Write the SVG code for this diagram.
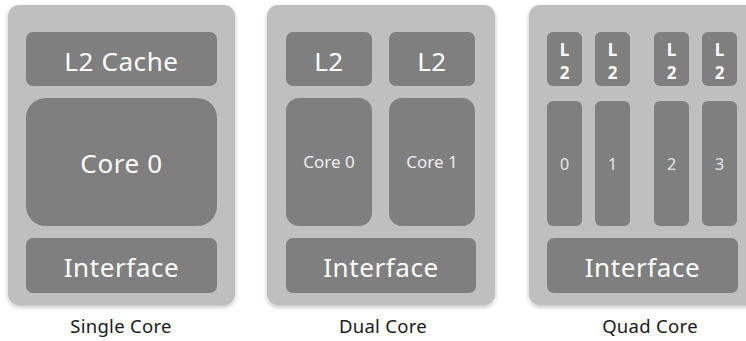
<svg xmlns="http://www.w3.org/2000/svg" width="746" height="341" viewBox="0 0 746 341">
<defs>
<filter id="sh" x="-10%" y="-10%" width="120%" height="120%">
<feDropShadow dx="0" dy="2" stdDeviation="2" flood-color="#000" flood-opacity="0.25"/>
</filter>
</defs>
<style>
.panel{fill:#bfbfbf;filter:url(#sh)}
.blk{fill:#7f7f7f}
.t{font-family:"Noto Sans","Open Sans",sans-serif;fill:#ffffff;text-anchor:middle}
.big{font-size:26px;letter-spacing:0.6px}
.mid{font-size:17px;fill:#eeeeee}
.q{font-size:17px;font-weight:bold}
.d{font-size:16px;fill:#e6e6e6}
.lab{font-family:"Noto Sans","Open Sans",sans-serif;font-size:18.5px;letter-spacing:0.3px;fill:#1a1a1a;text-anchor:middle}
</style>
<g id="single">
<rect class="panel" x="8" y="5" width="227" height="300" rx="11"/>
<rect class="blk" x="26" y="32" width="191" height="54" rx="7"/>
<rect class="blk" x="26" y="98" width="191" height="128" rx="20"/>
<rect class="blk" x="26" y="238" width="191" height="55" rx="7"/>
<text class="t big" x="121.5" y="71">L2 Cache</text>
<text class="t big" x="121.5" y="173">Core 0</text>
<text class="t big" x="121.5" y="277">Interface</text>
<text class="lab" x="121" y="333">Single Core</text>
</g>
<g id="dual">
<rect class="panel" x="267" y="5" width="228" height="300" rx="11"/>
<rect class="blk" x="286" y="32" width="86" height="54" rx="7"/>
<rect class="blk" x="389" y="32" width="86" height="54" rx="7"/>
<rect class="blk" x="286" y="98" width="86" height="128" rx="13"/>
<rect class="blk" x="389" y="98" width="86" height="128" rx="13"/>
<rect class="blk" x="286" y="238" width="190" height="55" rx="7"/>
<text class="t big" x="329" y="71">L2</text>
<text class="t big" x="432" y="71">L2</text>
<text class="t mid" x="329" y="168">Core 0</text>
<text class="t mid" x="432" y="168">Core 1</text>
<text class="t big" x="381" y="277">Interface</text>
<text class="lab" x="383" y="333">Dual Core</text>
</g>
<g id="quad">
<rect class="panel" x="529" y="5" width="230" height="300" rx="11"/>
<rect class="blk" x="547" y="32" width="35" height="54" rx="6"/>
<rect class="blk" x="595" y="32" width="35" height="54" rx="6"/>
<rect class="blk" x="654" y="32" width="35" height="54" rx="6"/>
<rect class="blk" x="702" y="32" width="35" height="54" rx="6"/>
<rect class="blk" x="547" y="101" width="35" height="125" rx="6"/>
<rect class="blk" x="595" y="101" width="35" height="125" rx="6"/>
<rect class="blk" x="654" y="101" width="35" height="125" rx="6"/>
<rect class="blk" x="702" y="101" width="35" height="125" rx="6"/>
<rect class="blk" x="547" y="238" width="191" height="55" rx="7"/>
<text class="t q" x="564.5" y="56">L</text><text class="t q" x="564.5" y="79">2</text>
<text class="t q" x="612.5" y="56">L</text><text class="t q" x="612.5" y="79">2</text>
<text class="t q" x="671.5" y="56">L</text><text class="t q" x="671.5" y="79">2</text>
<text class="t q" x="719.5" y="56">L</text><text class="t q" x="719.5" y="79">2</text>
<text class="t d" x="564.5" y="170">0</text>
<text class="t d" x="612.5" y="170">1</text>
<text class="t d" x="671.5" y="170">2</text>
<text class="t d" x="719.5" y="170">3</text>
<text class="t big" x="642.5" y="277">Interface</text>
<text class="lab" x="650" y="333">Quad Core</text>
</g>
<g id="connectors"/>
</svg>
